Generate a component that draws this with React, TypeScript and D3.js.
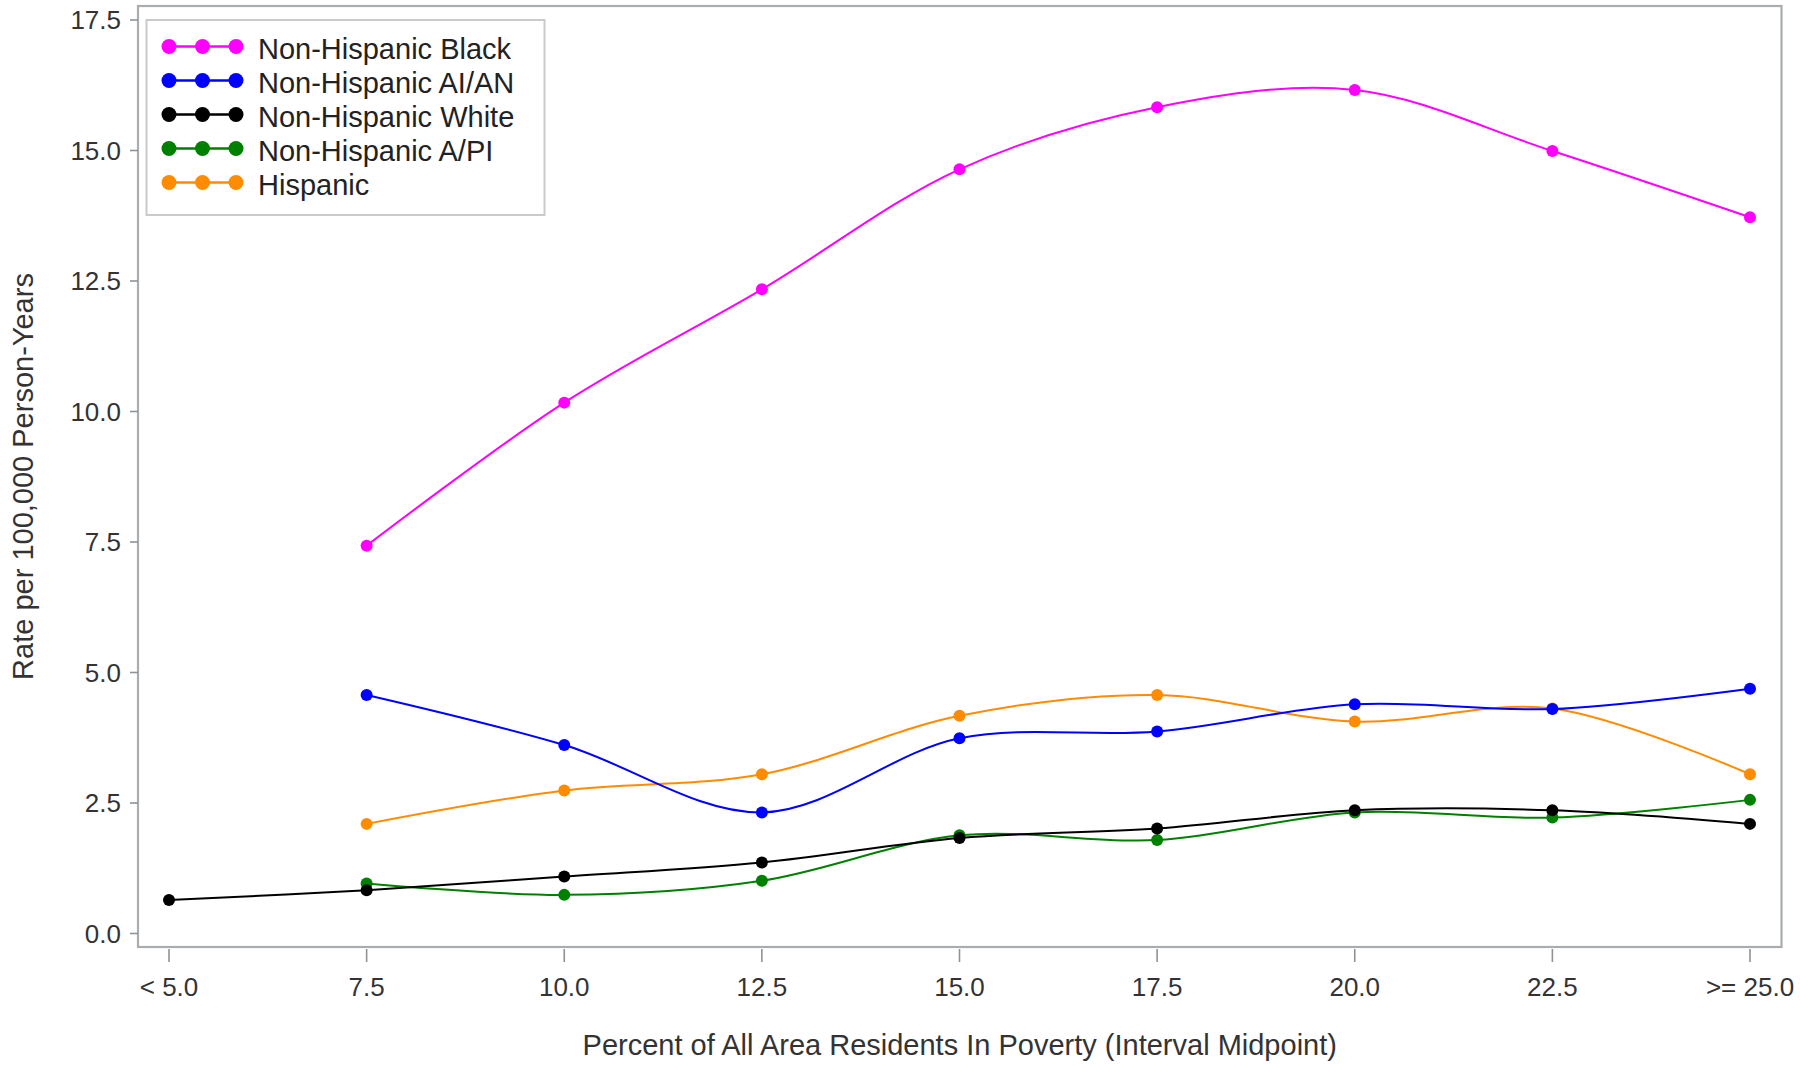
import React from "react";
import * as d3 from "d3";

const xValues = [5, 7.5, 10, 12.5, 15, 17.5, 20, 22.5, 25];
const xTickLabels = ["< 5.0", "7.5", "10.0", "12.5", "15.0", "17.5", "20.0", "22.5", ">= 25.0"];
const yTicks = [0, 2.5, 5, 7.5, 10, 12.5, 15, 17.5];

const seriesNames = ["Non-Hispanic Black", "Non-Hispanic AI/AN", "Non-Hispanic White", "Non-Hispanic A/PI", "Hispanic"];
const seriesColors = ["#ff00ff", "#0000ff", "#000000", "#008000", "#ff8c00"];

// null = no value at that x
const blackValues = [null, 7.43, 10.17, 12.34, 14.64, 15.83, 16.16, 14.99, 13.72];
const aianValues = [null, 4.57, 3.61, 2.32, 3.74, 3.87, 4.39, 4.30, 4.69];
const whiteValues = [0.64, 0.83, 1.09, 1.36, 1.83, 2.01, 2.36, 2.36, 2.10];
const apiValues = [null, 0.96, 0.74, 1.01, 1.88, 1.79, 2.32, 2.22, 2.56];
const hispanicValues = [null, 2.10, 2.74, 3.05, 4.17, 4.57, 4.06, 4.31, 3.05];

const allSeries = [blackValues, aianValues, whiteValues, apiValues, hispanicValues];
// drawing order (last on top)
const drawOrder = [4, 3, 2, 1, 0];

const W = 1800;
const H = 1066;
const FONT = "'Liberation Sans', Arial, Helvetica, sans-serif";

export default function App() {
  const x = d3.scaleLinear().domain([5, 25]).range([169, 1750]);
  const y = d3.scaleLinear().domain([0, 17.5]).range([933.5, 20]);

  const frameLeft = 138;
  const frameRight = 1781.5;
  const frameTop = 6;
  const frameBottom = 947;

  const line = d3
    .line<[number, number]>()
    .x((d) => x(d[0]))
    .y((d) => y(d[1]))
    .curve(d3.curveCatmullRom.alpha(0.5));

  const fmt = d3.format(".1f");

  const legendRowY = (i: number) => 46.5 + i * 34;

  return (
    <svg
      width={W}
      height={H}
      style={{ position: "absolute", left: 0, top: 0, background: "#fff" }}
      fontFamily={FONT}
    >
      <rect x={0} y={0} width={W} height={H} fill="#fff" />

      {/* plot frame */}
      <rect
        x={frameLeft}
        y={frameTop}
        width={frameRight - frameLeft}
        height={frameBottom - frameTop}
        fill="none"
        stroke="#a9adb0"
        strokeWidth={2.2}
      />

      {/* y ticks */}
      {yTicks.map((t) => (
        <g key={"yt" + t}>
          <line x1={frameLeft - 8} x2={frameLeft} y1={y(t)} y2={y(t)} stroke="#8f9396" strokeWidth={1.6} />
          <text
            x={frameLeft - 17}
            y={y(t)}
            textAnchor="end"
            dominantBaseline="central"
            fontSize={26}
            fill="#333"
          >
            {fmt(t)}
          </text>
        </g>
      ))}

      {/* x ticks */}
      {xValues.map((v, i) => (
        <g key={"xt" + v}>
          <line x1={x(v)} x2={x(v)} y1={frameBottom + 2} y2={frameBottom + 15} stroke="#8f9396" strokeWidth={1.6} />
          <text x={x(v)} y={996} textAnchor="middle" fontSize={26} fill="#333">
            {xTickLabels[i]}
          </text>
        </g>
      ))}

      {/* axis titles */}
      <text x={(frameLeft + frameRight) / 2} y={1055} textAnchor="middle" fontSize={29} fill="#333">
        Percent of All Area Residents In Poverty (Interval Midpoint)
      </text>
      <text
        transform={`translate(33, ${(frameTop + frameBottom) / 2}) rotate(-90)`}
        textAnchor="middle"
        fontSize={29}
        fill="#333"
      >
        Rate per 100,000 Person-Years
      </text>

      {/* series */}
      {drawOrder.map((si) => {
        const pts: [number, number][] = [];
        allSeries[si].forEach((v, i) => {
          if (v !== null) pts.push([xValues[i], v as number]);
        });
        return (
          <g key={"s" + si}>
            <path d={line(pts) || ""} fill="none" stroke={seriesColors[si]} strokeWidth={2} />
            {pts.map((p, j) => (
              <circle key={j} cx={x(p[0])} cy={y(p[1])} r={6} fill={seriesColors[si]} />
            ))}
          </g>
        );
      })}

      {/* legend */}
      <rect x={146.5} y={20} width={398} height={195} fill="#fff" stroke="#c8cacc" strokeWidth={2} />
      {seriesNames.map((name, i) => {
        const cy = legendRowY(i);
        return (
          <g key={"lg" + i}>
            <line x1={169} x2={236} y1={cy} y2={cy} stroke={seriesColors[i]} strokeWidth={2.5} />
            {[169, 202.5, 236].map((cx) => (
              <circle key={cx} cx={cx} cy={cy} r={7.5} fill={seriesColors[i]} />
            ))}
            <text x={258} y={cy + 2} dominantBaseline="central" fontSize={29} fill="#222">
              {name}
            </text>
          </g>
        );
      })}
    </svg>
  );
}
